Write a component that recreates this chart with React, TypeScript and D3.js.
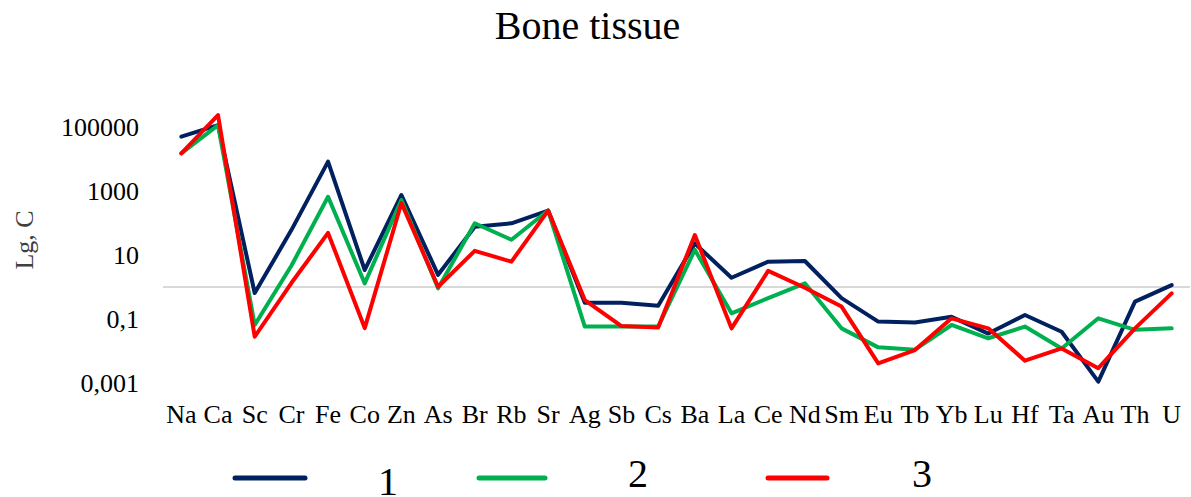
import React from "react";
import * as d3 from "d3";

const categories = ["Na","Ca","Sc","Cr","Fe","Co","Zn","As","Br","Rb","Sr","Ag","Sb","Cs","Ba","La","Ce","Nd","Sm","Eu","Tb","Yb","Lu","Hf","Ta","Au","Th","U"];

const series1 = [50000,115000,0.65,60,8300,3.4,750,2.4,76,98,245,0.32,0.32,0.26,23,1.95,6.2,6.5,0.45,0.083,0.078,0.117,0.035,0.133,0.04,0.0011,0.35,1.15];
const series2 = [15000,115000,0.065,4.6,660,1.3,525,0.91,98,30,245,0.058,0.058,0.058,14.5,0.15,0.45,1.3,0.051,0.013,0.011,0.065,0.025,0.058,0.012,0.105,0.046,0.051];
const series3 = [15000,237000,0.028,1.33,49,0.052,420,1.02,13.5,6.2,245,0.39,0.06,0.054,42,0.051,3.2,0.95,0.245,0.0041,0.0107,0.105,0.051,0.005,0.012,0.0029,0.051,0.63];

const seriesNames = ["1","2","3"];
const seriesColors = ["#002060","#00B050","#FF0000"];
const yTicks = [0.001, 0.1, 10, 1000, 100000];
const yTickLabels = ["0,001","0,1","10","1000","100000"];

const W = 1191, H = 497;
const FONT = "'Liberation Serif', 'Times New Roman', serif";

export default function App() {
  const x = d3.scaleBand<string>().domain(categories).range([163, 1190]).padding(0);
  const y = d3.scaleLog().domain([0.001, 1e6]).range([383, 95]);
  const cx = (c: string) => (x(c) as number) + x.bandwidth() / 2;
  const line = d3.line<number>().x((_, i) => cx(categories[i])).y(d => y(d));
  const all = [series1, series2, series3];

  const legendLines = [[235, 305], [479, 545], [768, 827]];
  const legendText = [[388, 495], [638, 487], [922, 487]];

  return (
    <svg width={W} height={H} style={{ position: "absolute", left: 0, top: 0, background: "#fff" }} fontFamily={FONT}>
      <rect x={0} y={0} width={W} height={H} fill="#fff" />
      <text x={587.5} y={39} fontSize={40} textAnchor="middle" fill="#000">Bone tissue</text>
      <text transform="translate(33,240) rotate(-90)" fontSize={26} textAnchor="middle" fill="#404040">Lg, C</text>
      {yTicks.map((t, i) => (
        <text key={t} x={139} y={y(t)} dy="0.35em" fontSize={26} textAnchor="end" fill="#000">{yTickLabels[i]}</text>
      ))}
      <line x1={163} x2={1190} y1={y(1)} y2={y(1)} stroke="#D9D9D9" strokeWidth={2} />
      {categories.map(c => (
        <text key={c} x={cx(c)} y={423} fontSize={26} textAnchor="middle" fill="#000">{c}</text>
      ))}
      {all.map((s, i) => (
        <path key={i} d={line(s) as string} fill="none" stroke={seriesColors[i]} strokeWidth={4} strokeLinejoin="round" strokeLinecap="round" />
      ))}
      {seriesNames.map((n, i) => (
        <g key={n}>
          <line x1={legendLines[i][0]} x2={legendLines[i][1]} y1={478} y2={478} stroke={seriesColors[i]} strokeWidth={5} strokeLinecap="round" />
          <text x={legendText[i][0]} y={legendText[i][1]} fontSize={40} textAnchor="middle" fill="#000">{n}</text>
        </g>
      ))}
    </svg>
  );
}
